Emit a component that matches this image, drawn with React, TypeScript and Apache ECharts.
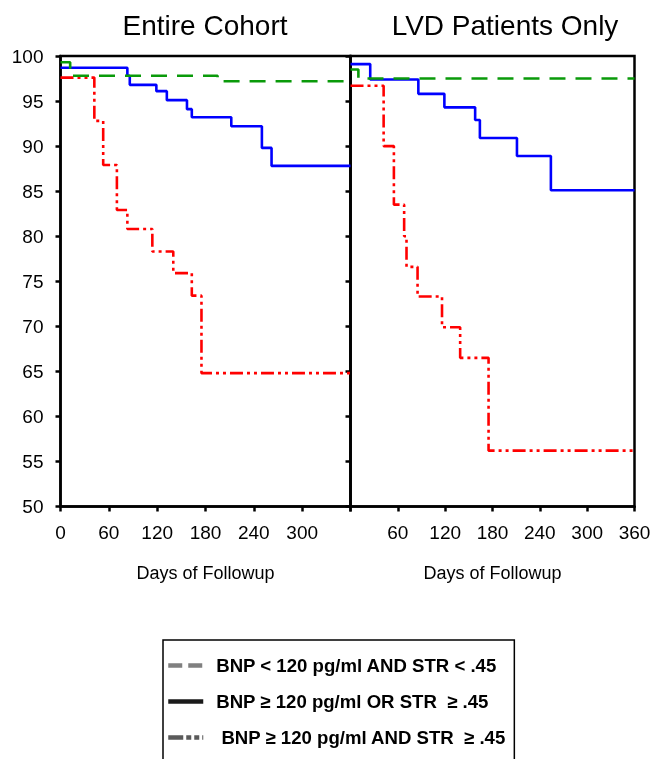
import React, { useEffect, useRef } from "react";
import * as echarts from "echarts";

const panelTitles = ["Entire Cohort", "LVD Patients Only"];
const xAxisName = "Days of Followup";
const seriesNames = [
  "BNP < 120 pg/ml AND STR < .45",
  "BNP ≥ 120 pg/ml OR STR  ≥ .45",
  " BNP ≥ 120 pg/ml AND STR  ≥ .45",
];

// Entire cohort (left panel)
const leftLowDays = [0, 12, 195, 360];
const leftLowVals = [99.3, 97.8, 97.2, 97.2];
const leftMidDays = [0, 83, 86, 119, 132, 157, 163, 212, 250, 262, 360];
const leftMidVals = [98.7, 97.8, 96.8, 96.1, 95.1, 94.1, 93.2, 92.2, 89.8, 87.8, 87.8];
const leftHighDays = [0, 42, 53, 70, 83, 114, 140, 163, 175, 360];
const leftHighVals = [97.6, 92.8, 87.9, 82.9, 80.8, 78.3, 75.9, 73.4, 64.8, 64.8];

// LVD patients only (right panel)
const rightLowDays = [0, 10, 360];
const rightLowVals = [98.5, 97.5, 97.5];
const rightMidDays = [0, 25, 86, 119, 158, 164, 211, 254, 360];
const rightMidVals = [99.1, 97.4, 95.8, 94.3, 92.9, 90.9, 88.9, 85.1, 85.1];
const rightHighDays = [0, 42, 55, 68, 71, 85, 116, 139, 175, 360];
const rightHighVals = [96.7, 90.0, 83.5, 80.0, 76.6, 73.3, 69.9, 66.5, 56.2, 56.2];

const yTicks = [50, 55, 60, 65, 70, 75, 80, 85, 90, 95, 100];
const xTicks = [0, 60, 120, 180, 240, 300, 360];

const colors = ["#0a9a0a", "#0000ff", "#ff0000"];
const lineTypes: any[] = [[16, 10], "solid", [13, 4, 3, 4, 3, 4]];
const legendColors = ["#808080", "#1a1a1a", "#5a5a5a"];
const legendTypes: any[] = [[14, 6], "solid", [15, 3, 5, 3, 5, 3]];

const FONT = "Arial, 'Liberation Sans', sans-serif";

function pairs(days: number[], vals: number[]) {
  return days.map((d, i) => [d, vals[i]]);
}

export default function App() {
  const ref = useRef<HTMLDivElement>(null);
  useEffect(() => {
    if (!ref.current) return;
    const chart = echarts.init(ref.current, undefined, { renderer: "svg" });
    const grids = [
      { left: 60.5, top: 56, width: 290, height: 450.5 },
      { left: 350.5, top: 56, width: 284, height: 450.5 },
    ];
    const axisLine = { show: true, lineStyle: { color: "#000", width: 2.5 } };
    const axisTick = { show: true, length: 5, inside: false, lineStyle: { color: "#000", width: 2.5 } };
    const xAxes = [0, 1].map((g) => ({
      type: "value",
      gridIndex: g,
      min: xTicks[0],
      max: xTicks[xTicks.length - 1],
      interval: 60,
      axisLine,
      axisTick,
      splitLine: { show: false },
      axisLabel: {
        color: "#000",
        fontSize: 19,
        fontFamily: FONT,
        margin: 16,
        formatter: (v: number) => (g === 0 && v === 360) || (g === 1 && v === 0) ? "" : String(v),
      },
      name: xAxisName,
      nameLocation: "middle",
      nameGap: 57,
      nameTextStyle: { color: "#000", fontSize: 18, fontFamily: FONT },
    }));
    const yAxes = [0, 1].map((g) => ({
      type: "value",
      gridIndex: g,
      min: yTicks[0],
      max: yTicks[yTicks.length - 1],
      interval: 5,
      axisLine,
      axisTick,
      splitLine: { show: false },
      axisLabel: {
        show: g === 0,
        color: "#000",
        fontSize: 19,
        fontFamily: FONT,
        margin: 17,
      },
    }));
    const panels = [
      [pairs(leftLowDays, leftLowVals), pairs(leftMidDays, leftMidVals), pairs(leftHighDays, leftHighVals)],
      [pairs(rightLowDays, rightLowVals), pairs(rightMidDays, rightMidVals), pairs(rightHighDays, rightHighVals)],
    ];
    const series: any[] = [];
    panels.forEach((panel, g) => {
      panel.forEach((data, k) => {
        series.push({
          type: "line",
          name: seriesNames[k],
          xAxisIndex: g,
          yAxisIndex: g,
          step: "end",
          symbol: "none",
          data,
          lineStyle: { color: colors[k], width: 2.6, type: lineTypes[k] },
          itemStyle: { color: colors[k] },
          z: 3 - k + 2,
        });
      });
    });
    chart.setOption({
      animation: false,
      title: [
        {
          text: panelTitles[0],
          left: 205,
          top: 11,
          textAlign: "center",
          padding: 0,
          textStyle: { fontSize: 28, fontWeight: "normal", color: "#000", fontFamily: FONT },
        },
        {
          text: panelTitles[1],
          left: 505,
          top: 11,
          textAlign: "center",
          padding: 0,
          textStyle: { fontSize: 28, fontWeight: "normal", color: "#000", fontFamily: FONT },
        },
      ],
      grid: grids.map((g) => ({ ...g, show: true, borderColor: "#000", borderWidth: 2.5, backgroundColor: "transparent" })),
      xAxis: xAxes,
      yAxis: yAxes,
      legend: {
        orient: "vertical",
        left: 163,
        top: 640,
        height: 200,
        padding: [16, 8, 18, 3],
        itemWidth: 35,
        itemHeight: 14,
        itemGap: 17,
        borderColor: "#000",
        borderWidth: 1.5,
        selectedMode: false,
        textStyle: { fontSize: 18.6, fontWeight: "bold", color: "#000", fontFamily: FONT, padding: [0, 0, 0, 8] },
        data: seriesNames.map((n, k) => ({
          name: n,
          lineStyle: { color: legendColors[k], width: 4.5, type: legendTypes[k] },
          itemStyle: { color: "rgba(0,0,0,0)", borderColor: "rgba(0,0,0,0)", borderWidth: 0 },
        })),
      },
      series,
    });
    return () => chart.dispose();
  }, []);
  return <div ref={ref} style={{ position: "fixed", left: 0, top: 0, width: 654, height: 759 }} />;
}
